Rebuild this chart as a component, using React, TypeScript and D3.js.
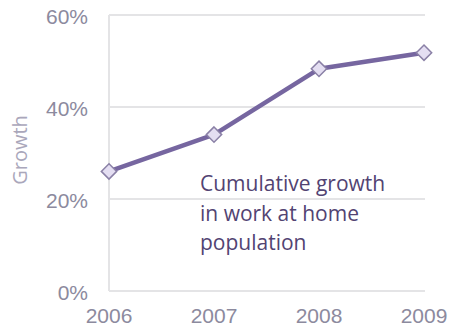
import React from "react";
import * as d3 from "d3";

const years = ["2006", "2007", "2008", "2009"];
const growth = [0.26, 0.34, 0.483, 0.518];
const yTicks = [0, 0.2, 0.4, 0.6];
const noteLines = ["Cumulative growth", "in work at home", "population"];

export default function App() {
  const W = 450, H = 328;
  const x = d3.scalePoint<string>().domain(years).range([109, 424]);
  const y = d3.scaleLinear().domain([0, 0.6]).range([291, 15]);
  const line = d3.line<number>().x((_, i) => x(years[i])!).y((d) => y(d));
  const font = "'Open Sans', 'Noto Sans', sans-serif";
  const tickFont = "'Liberation Sans', Arial, sans-serif";
  const tickColor = "#8c8a9e";
  return (
    <svg width={W} height={H} style={{ position: "absolute", left: 0, top: 0, background: "#fff" }}>
      {yTicks.map((t) => (
        <g key={t}>
          <line x1={109} x2={425} y1={y(t)} y2={y(t)} stroke="#e4e4e6" strokeWidth={2} />
          <text x={88} y={y(t) + 9} textAnchor="end" fontFamily={tickFont} fontSize={21} fill={tickColor}>
            {d3.format(".0%")(t)}
          </text>
        </g>
      ))}
      <line x1={109} x2={109} y1={y(0.6)} y2={y(0)} stroke="#e4e4e6" strokeWidth={2} />
      {years.map((yr) => (
        <text key={yr} x={x(yr)!} y={323} textAnchor="middle" fontFamily={tickFont} fontSize={21} fill={tickColor}>
          {yr}
        </text>
      ))}
      <text transform="translate(27,150) rotate(-90)" textAnchor="middle" fontFamily={font} fontSize={20} fill="#aaa7bb">
        Growth
      </text>
      <path d={line(growth)!} fill="none" stroke="#7666a0" strokeWidth={4.5} strokeLinejoin="round" />
      {growth.map((v, i) => (
        <path
          key={i}
          d={d3.symbol(d3.symbolDiamond2, 150)()!}
          transform={`translate(${x(years[i])},${y(v)})`}
          fill="#e4def2"
          stroke="#8a80a6"
          strokeWidth={1.5}
        />
      ))}
      {noteLines.map((s, i) => (
        <text key={s} x={200} y={191 + i * 29.5} fontFamily={font} fontSize={21} fill="#524372">
          {s}
        </text>
      ))}
    </svg>
  );
}
